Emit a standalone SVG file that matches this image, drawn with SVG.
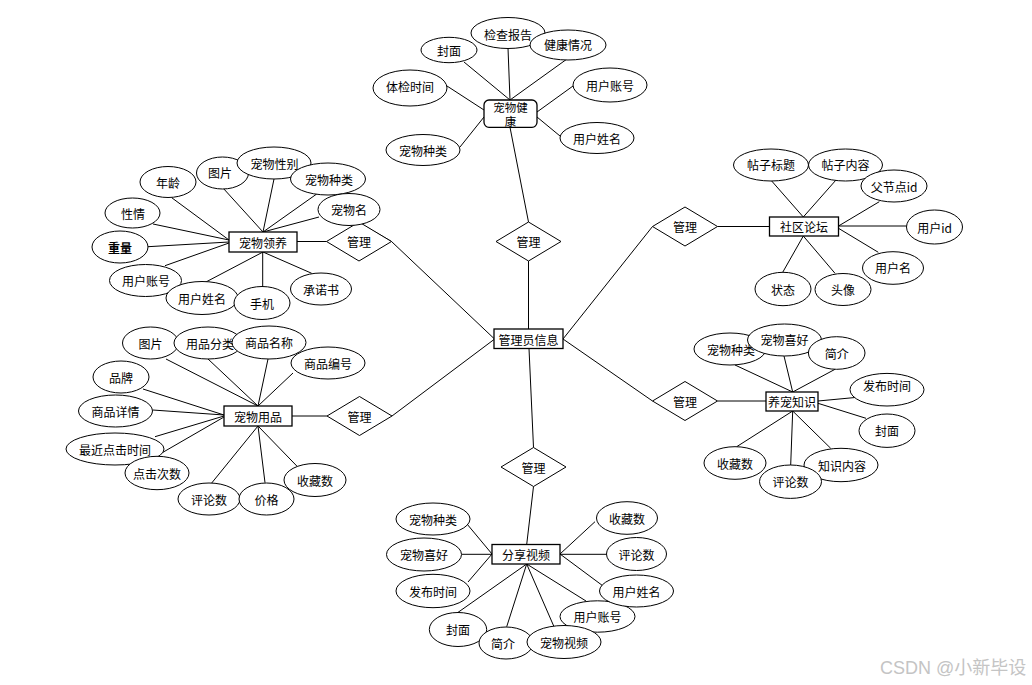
<svg xmlns="http://www.w3.org/2000/svg" width="1032" height="685" viewBox="0 0 1032 685">
<style>
.bg{fill:#fff}
.c line{stroke:#000;stroke-width:1}
.a{fill:#fff;stroke:#000;stroke-width:1}
.e{fill:#fff;stroke:#000;stroke-width:1.3}
.d{fill:#fff;stroke:#000;stroke-width:1}
text{font-family:"Noto Sans CJK SC","Liberation Sans",sans-serif;font-size:12px;fill:#000;text-anchor:middle;dominant-baseline:central}
.sm{font-size:11.5px}
.wm{font-family:"Liberation Sans","Noto Sans CJK SC",sans-serif;font-size:18px;fill:#c4c4c4;text-anchor:start;dominant-baseline:alphabetic}
</style>
<rect class="bg" x="0" y="0" width="1032" height="685"/>
<g id="connectors" class="c">
<line x1="528.5" y1="261" x2="528.5" y2="329"/>
<line x1="528.5" y1="222" x2="510" y2="127.3"/>
<line x1="391.5" y1="241.5" x2="494" y2="338.5"/>
<line x1="392" y1="416" x2="494" y2="339.5"/>
<line x1="533.5" y1="447.5" x2="529" y2="348.5"/>
<line x1="563" y1="339" x2="652.5" y2="226.5"/>
<line x1="563" y1="339" x2="652.5" y2="401"/>
<line x1="363" y1="225" x2="391.5" y2="241.5"/>
<line x1="326.5" y1="241.5" x2="297" y2="241.5"/>
<line x1="327" y1="416" x2="292" y2="416"/>
<line x1="533.5" y1="486.5" x2="526.7" y2="544.5"/>
<line x1="717.5" y1="226.5" x2="769.5" y2="226.5"/>
<line x1="717.5" y1="401" x2="766" y2="401"/>
<line x1="464" y1="62" x2="510" y2="100"/>
<line x1="508" y1="48" x2="510" y2="100"/>
<line x1="567" y1="59" x2="510" y2="100"/>
<line x1="447" y1="86" x2="484" y2="110"/>
<line x1="460" y1="147" x2="484" y2="117"/>
<line x1="573" y1="86" x2="537" y2="112"/>
<line x1="560" y1="136" x2="537" y2="117"/>
<line x1="171.7" y1="197.7" x2="229" y2="240"/>
<line x1="223" y1="188" x2="263" y2="232"/>
<line x1="274" y1="179" x2="263" y2="232"/>
<line x1="316.7" y1="194" x2="263" y2="232"/>
<line x1="319" y1="217" x2="263" y2="232"/>
<line x1="153" y1="224" x2="229" y2="240"/>
<line x1="148" y1="246.7" x2="229" y2="242"/>
<line x1="165" y1="265.7" x2="229" y2="243"/>
<line x1="204" y1="283" x2="263" y2="252"/>
<line x1="262.7" y1="287" x2="262.7" y2="252"/>
<line x1="311.7" y1="273.3" x2="263" y2="252"/>
<line x1="166" y1="359" x2="258" y2="406"/>
<line x1="208" y1="359" x2="258" y2="406"/>
<line x1="268" y1="359" x2="258" y2="406"/>
<line x1="293" y1="373" x2="258" y2="406"/>
<line x1="143" y1="389" x2="224" y2="415"/>
<line x1="152.7" y1="410" x2="224" y2="415"/>
<line x1="155" y1="436.7" x2="224" y2="416"/>
<line x1="161.7" y1="453" x2="224" y2="417"/>
<line x1="211.7" y1="483" x2="258" y2="426"/>
<line x1="265" y1="482.7" x2="258" y2="426"/>
<line x1="300.7" y1="470" x2="258" y2="426"/>
<line x1="467" y1="524" x2="492" y2="554"/>
<line x1="461.7" y1="554.3" x2="492" y2="554.3"/>
<line x1="468" y1="582" x2="492" y2="554"/>
<line x1="456.7" y1="613.3" x2="526.7" y2="564"/>
<line x1="506.7" y1="626.7" x2="526.7" y2="564"/>
<line x1="554" y1="626.7" x2="526.7" y2="564"/>
<line x1="586" y1="601" x2="526.7" y2="564"/>
<line x1="604" y1="586.7" x2="560" y2="554"/>
<line x1="606.7" y1="554.3" x2="560" y2="554.3"/>
<line x1="595" y1="521.7" x2="560" y2="554"/>
<line x1="771.7" y1="181" x2="803.3" y2="217"/>
<line x1="836" y1="180" x2="803.3" y2="217"/>
<line x1="879.3" y1="201.7" x2="838.5" y2="226"/>
<line x1="906.7" y1="226" x2="838.5" y2="226"/>
<line x1="878.3" y1="252.3" x2="838.5" y2="228.3"/>
<line x1="782.7" y1="272.3" x2="803.3" y2="236"/>
<line x1="835" y1="273.3" x2="803.3" y2="236"/>
<line x1="735" y1="365" x2="792.7" y2="392"/>
<line x1="784" y1="356" x2="792.7" y2="392"/>
<line x1="835" y1="369.3" x2="792.7" y2="392"/>
<line x1="857.3" y1="397.3" x2="818" y2="401"/>
<line x1="866" y1="418.3" x2="818" y2="403.3"/>
<line x1="736.7" y1="446.7" x2="792.7" y2="411"/>
<line x1="790.7" y1="465" x2="792.7" y2="411"/>
<line x1="830.7" y1="448.3" x2="792.7" y2="411"/>
</g>

<g id="e-admin"><rect class="e" x="494" y="329" width="69" height="19.5"/><text x="528.5" y="339">管理员信息</text></g>
<g id="e-health"><rect class="e" x="484" y="100" width="53" height="27.3" rx="5"/><text class="sm" x="510.5" y="106.5">宠物健</text><text class="sm" x="510.5" y="121">康</text></g>
<g id="e-adopt"><rect class="e" x="229" y="232" width="68" height="20"/><text x="263" y="242">宠物领养</text></g>
<g id="e-supply"><rect class="e" x="224" y="406" width="68" height="20"/><text x="258" y="416">宠物用品</text></g>
<g id="e-video"><rect class="e" x="492" y="544.5" width="68" height="19.5"/><text x="526" y="554.3">分享视频</text></g>
<g id="e-forum"><rect class="e" x="769.5" y="217" width="69" height="19"/><text x="804" y="226.5">社区论坛</text></g>
<g id="e-know"><rect class="e" x="766" y="392" width="52" height="19"/><text x="792" y="401.5">养宠知识</text></g>

<g id="r-top"><polygon class="d" points="496,241.5 528.5,222 561,241.5 528.5,261"/><text x="528.5" y="241.5">管理</text></g>
<g id="r-lt"><polygon class="d" points="326.5,241.5 359,222 391.5,241.5 359,261"/><text x="359" y="241.5">管理</text></g>
<g id="r-lb"><polygon class="d" points="327,416 359.5,396.5 392,416 359.5,435.5"/><text x="359.5" y="416">管理</text></g>
<g id="r-bot"><polygon class="d" points="501,467 533.5,447.5 566,467 533.5,486.5"/><text x="533.5" y="467">管理</text></g>
<g id="r-rt"><polygon class="d" points="652.5,226.5 685,207 717.5,226.5 685,246"/><text x="685" y="226.5">管理</text></g>
<g id="r-rb"><polygon class="d" points="652.5,401 685,381.5 717.5,401 685,420.5"/><text x="685" y="401">管理</text></g>

<!-- 宠物健康 attributes -->
<g id="h-cover"><ellipse class="a" cx="449" cy="50" rx="28" ry="12.7"/><text x="449" y="50">封面</text></g>
<g id="h-report"><ellipse class="a" cx="508" cy="33" rx="37" ry="15.5"/><text x="508" y="34">检查报告</text></g>
<g id="h-status"><ellipse class="a" cx="568" cy="45" rx="38" ry="15"/><text x="568" y="44">健康情况</text></g>
<g id="h-time"><ellipse class="a" cx="410" cy="88" rx="37" ry="18"/><text x="410" y="86">体检时间</text></g>
<g id="h-account"><ellipse class="a" cx="610" cy="85" rx="37" ry="17"/><text x="610" y="85">用户账号</text></g>
<g id="h-name"><ellipse class="a" cx="597" cy="138" rx="37" ry="15.5"/><text x="597" y="138">用户姓名</text></g>
<g id="h-kind"><ellipse class="a" cx="423" cy="150" rx="37" ry="15.5"/><text x="423" y="150">宠物种类</text></g>

<!-- 宠物领养 attributes -->
<g id="a-age"><ellipse class="a" cx="168" cy="182" rx="28" ry="15.5"/><text x="168" y="182">年龄</text></g>
<g id="a-pic"><ellipse class="a" cx="222.5" cy="173" rx="26" ry="16"/><text x="220" y="172">图片</text></g>
<g id="a-sex"><ellipse class="a" cx="274" cy="163" rx="37" ry="16"/><text x="274.5" y="163">宠物性别</text></g>
<g id="a-kind"><ellipse class="a" cx="328" cy="179" rx="37.5" ry="16"/><text x="329" y="179">宠物种类</text></g>
<g id="a-petname"><ellipse class="a" cx="349" cy="209.5" rx="31" ry="16"/><text x="349" y="209.5">宠物名</text></g>
<g id="a-temper"><ellipse class="a" cx="132.5" cy="213" rx="27.5" ry="15"/><text x="133" y="213">性情</text></g>
<g id="a-weight"><ellipse class="a" cx="120" cy="247" rx="28" ry="16"/><text x="120" y="247" font-weight="bold">重量</text></g>
<g id="a-account"><ellipse class="a" cx="145.5" cy="280.5" rx="36" ry="16"/><text x="146" y="280.5">用户账号</text></g>
<g id="a-name"><ellipse class="a" cx="202" cy="298" rx="36" ry="16.5"/><text x="202" y="298">用户姓名</text></g>
<g id="a-phone"><ellipse class="a" cx="262" cy="303" rx="28" ry="16.5"/><text x="262" y="303">手机</text></g>
<g id="a-promise"><ellipse class="a" cx="321" cy="289" rx="30.5" ry="16"/><text x="321" y="289">承诺书</text></g>

<!-- 宠物用品 attributes -->
<g id="s-pic"><ellipse class="a" cx="150.5" cy="343" rx="28" ry="16"/><text x="150.5" y="343">图片</text></g>
<g id="s-cat"><ellipse class="a" cx="208" cy="343" rx="34" ry="16"/><text x="210" y="343">用品分类</text></g>
<g id="s-gname"><ellipse class="a" cx="269" cy="342.5" rx="37" ry="16.5"/><text x="269" y="342.5">商品名称</text></g>
<g id="s-gno"><ellipse class="a" cx="328" cy="363" rx="37" ry="16"/><text x="328" y="363">商品编号</text></g>
<g id="s-brand"><ellipse class="a" cx="121" cy="377" rx="28" ry="16"/><text x="121" y="377">品牌</text></g>
<g id="s-detail"><ellipse class="a" cx="115.5" cy="411" rx="37" ry="16"/><text x="115.5" y="411">商品详情</text></g>
<g id="s-lastclick"><ellipse class="a" cx="115" cy="449" rx="49" ry="16"/><text x="115" y="449">最近点击时间</text></g>
<g id="s-clicks"><ellipse class="a" cx="157" cy="473" rx="32" ry="16.7"/><text x="157" y="473">点击次数</text></g>
<g id="s-comments"><ellipse class="a" cx="209" cy="499" rx="31" ry="16"/><text x="209" y="499">评论数</text></g>
<g id="s-price"><ellipse class="a" cx="266.5" cy="499" rx="27.5" ry="16"/><text x="266.5" y="499">价格</text></g>
<g id="s-fav"><ellipse class="a" cx="315" cy="480" rx="31" ry="16.5"/><text x="315" y="480">收藏数</text></g>

<!-- 分享视频 attributes -->
<g id="v-kind"><ellipse class="a" cx="433" cy="519" rx="37" ry="16"/><text x="433" y="519">宠物种类</text></g>
<g id="v-like"><ellipse class="a" cx="424" cy="554.5" rx="37.5" ry="16.5"/><text x="424" y="554.5">宠物喜好</text></g>
<g id="v-time"><ellipse class="a" cx="433" cy="591" rx="37" ry="16.7"/><text x="433" y="591">发布时间</text></g>
<g id="v-cover"><ellipse class="a" cx="458" cy="629.5" rx="28.7" ry="17"/><text x="458" y="629.5">封面</text></g>
<g id="v-intro"><ellipse class="a" cx="506" cy="643" rx="27" ry="16"/><text x="503" y="643">简介</text></g>
<g id="v-account"><ellipse class="a" cx="597.5" cy="616.5" rx="37.5" ry="15.7"/><text x="597.5" y="616.5">用户账号</text></g>
<g id="v-video"><ellipse class="a" cx="564" cy="642" rx="37" ry="16.5"/><text x="564" y="642">宠物视频</text></g>
<g id="v-name"><ellipse class="a" cx="636.5" cy="591" rx="37" ry="16"/><text x="636.5" y="591">用户姓名</text></g>
<g id="v-comments"><ellipse class="a" cx="636.5" cy="554" rx="30" ry="16.5"/><text x="636.5" y="554">评论数</text></g>
<g id="v-fav"><ellipse class="a" cx="627" cy="518" rx="30.5" ry="16.3"/><text x="627" y="518">收藏数</text></g>

<!-- 社区论坛 attributes -->
<g id="f-title"><ellipse class="a" cx="771" cy="165" rx="37.5" ry="16"/><text x="771" y="164">帖子标题</text></g>
<g id="f-content"><ellipse class="a" cx="845.5" cy="165" rx="37" ry="16"/><text x="845.5" y="164">帖子内容</text></g>
<g id="f-parent"><ellipse class="a" cx="894" cy="186" rx="33" ry="16"/><text x="894" y="186">父节点id</text></g>
<g id="f-uid"><ellipse class="a" cx="934.5" cy="227" rx="28" ry="17"/><text x="934.5" y="227">用户id</text></g>
<g id="f-uname"><ellipse class="a" cx="893" cy="268" rx="30.5" ry="16.3"/><text x="893" y="267">用户名</text></g>
<g id="f-state"><ellipse class="a" cx="783" cy="289" rx="28" ry="16.7"/><text x="783" y="289">状态</text></g>
<g id="f-avatar"><ellipse class="a" cx="843" cy="289.5" rx="28" ry="16"/><text x="843" y="289.5">头像</text></g>

<!-- 养宠知识 attributes -->
<g id="k-kind"><ellipse class="a" cx="730" cy="349" rx="36" ry="16"/><text x="731" y="349">宠物种类</text></g>
<g id="k-like"><ellipse class="a" cx="784.5" cy="340" rx="37" ry="16"/><text x="784.5" y="339.5">宠物喜好</text></g>
<g id="k-intro"><ellipse class="a" cx="836.7" cy="353" rx="28.3" ry="16.3"/><text x="836.7" y="353">简介</text></g>
<g id="k-time"><ellipse class="a" cx="887" cy="389.7" rx="37" ry="16.3"/><text x="887" y="385">发布时间</text></g>
<g id="k-cover"><ellipse class="a" cx="887" cy="430.7" rx="28" ry="16.7"/><text x="887" y="430.7">封面</text></g>
<g id="k-fav"><ellipse class="a" cx="735" cy="463" rx="31" ry="16.3"/><text x="735" y="463">收藏数</text></g>
<g id="k-content"><ellipse class="a" cx="841" cy="465" rx="37" ry="16.7"/><text x="842" y="465">知识内容</text></g>
<g id="k-comments"><ellipse class="a" cx="790.5" cy="481.7" rx="31" ry="16.7"/><text x="790.5" y="481.7">评论数</text></g>

<text class="wm" x="880" y="674">CSDN @小新毕设</text>
</svg>
